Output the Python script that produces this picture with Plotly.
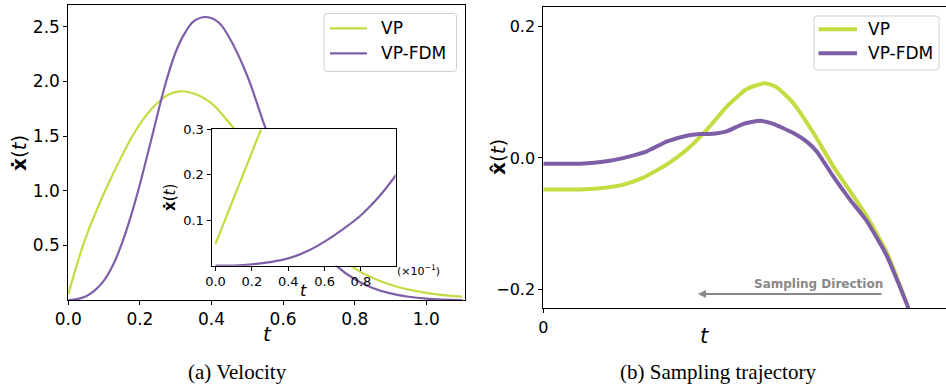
import plotly.graph_objects as go

W, H = 946, 387

# ---------------- data ----------------
vp_t = [0, 0.02, 0.04, 0.06, 0.08, 0.1, 0.12, 0.14, 0.16, 0.18, 0.2, 0.22, 0.24, 0.26,
        0.28, 0.31, 0.35, 0.4, 0.45, 0.5, 0.6, 0.7, 0.8, 0.9, 1.0, 1.1]
vel_vp = [0.049, 0.28, 0.49, 0.67, 0.83, 0.98, 1.12, 1.255, 1.385, 1.505, 1.61, 1.70, 1.775,
          1.835, 1.88, 1.91, 1.89, 1.80, 1.62, 1.42, 0.98, 0.58, 0.29, 0.14, 0.065, 0.03]

fdm_t = [0, 0.025, 0.05, 0.075, 0.1, 0.125, 0.15, 0.175, 0.2, 0.225, 0.25, 0.275, 0.3,
         0.325, 0.35, 0.385, 0.42, 0.45, 0.5, 0.55, 0.6, 0.65, 0.7, 0.75, 0.8, 0.85, 0.9,
         0.95, 1.0, 1.05, 1.1]
vel_fdm = [0, 0.008, 0.035, 0.09, 0.18, 0.32, 0.52, 0.77, 1.06, 1.38, 1.71, 2.02, 2.27,
           2.44, 2.55, 2.59, 2.54, 2.40, 2.05, 1.58, 1.15, 0.78, 0.50, 0.31, 0.19, 0.11,
           0.06, 0.03, 0.012, 0.004, 0.0]

inset_t_vp = [0, 0.1, 0.2, 0.25, 0.3]
inset_vp = [0.048, 0.149, 0.250, 0.300, 0.350]
inset_t_fdm = [0, 0.1, 0.2, 0.3, 0.4, 0.5, 0.6, 0.7, 0.8, 0.9, 1.0]
inset_fdm = [0, 0.0004, 0.003, 0.008, 0.016, 0.031, 0.053, 0.080, 0.111, 0.152, 0.203]

traj_u_vp = [0, 0.091, 0.141, 0.199, 0.248, 0.306, 0.356, 0.406, 0.455, 0.505, 0.550,
             0.579, 0.621, 0.671, 0.720, 0.770, 0.803, 0.853, 0.906, 0.93]
traj_vp = [-0.048, -0.048, -0.046, -0.0405, -0.030, -0.010, 0.0127, 0.043, 0.078, 0.105,
           0.114, 0.108, 0.0835, 0.038, -0.0127, -0.058, -0.0886, -0.144, -0.228, -0.27]
traj_u_fdm = [0, 0.091, 0.157, 0.215, 0.257, 0.306, 0.356, 0.389, 0.422, 0.455, 0.497,
              0.538, 0.571, 0.621, 0.654, 0.679, 0.720, 0.761, 0.803, 0.853, 0.906, 0.93]
traj_fdm = [-0.0086, -0.0086, -0.005, 0.0025, 0.010, 0.025, 0.034, 0.0365, 0.037, 0.0405,
            0.052, 0.0567, 0.052, 0.038, 0.025, 0.010, -0.028, -0.063, -0.096, -0.149,
            -0.228, -0.27]

names = ["VP", "VP-FDM"]
colors = ["#c6da42", "#7f5ea8"]

vel_xticks = [0, 0.2, 0.4, 0.6, 0.8, 1.0]
vel_xlabels = ["0.0", "0.2", "0.4", "0.6", "0.8", "1.0"]
vel_yticks = [0.5, 1.0, 1.5, 2.0, 2.5]
vel_ylabels = ["0.5", "1.0", "1.5", "2.0", "2.5"]
inset_xticks = [0, 0.2, 0.4, 0.6, 0.8]
inset_xlabels = ["0.0", "0.2", "0.4", "0.6", "0.8"]
inset_yticks = [0.1, 0.2, 0.3]
inset_ylabels = ["0.1", "0.2", "0.3"]
traj_yticks = [-0.2, 0.0, 0.2]
traj_ylabels = ["\u22120.2", "0.0", "0.2"]

# ---------------- helpers ----------------
def px(x):
    return x / W

def py(y):
    return 1 - y / H

FONT = "DejaVu Sans"
fig = go.Figure()

# left main
fig.add_trace(go.Scatter(x=vp_t, y=vel_vp, mode="lines", name=names[0],
                         line=dict(color=colors[0], width=2.2, shape="spline", smoothing=1),
                         xaxis="x", yaxis="y", showlegend=False))
fig.add_trace(go.Scatter(x=fdm_t, y=vel_fdm, mode="lines", name=names[1],
                         line=dict(color=colors[1], width=2.2, shape="spline", smoothing=1),
                         xaxis="x", yaxis="y", showlegend=False))
# right
fig.add_trace(go.Scatter(x=traj_u_vp, y=traj_vp, mode="lines", name=names[0],
                         line=dict(color=colors[0], width=4, shape="spline", smoothing=0.5),
                         xaxis="x2", yaxis="y2", showlegend=False))
fig.add_trace(go.Scatter(x=traj_u_fdm, y=traj_fdm, mode="lines", name=names[1],
                         line=dict(color=colors[1], width=4, shape="spline", smoothing=0.5),
                         xaxis="x2", yaxis="y2", showlegend=False))
# inset
fig.add_trace(go.Scatter(x=inset_t_vp, y=inset_vp, mode="lines", showlegend=False,
                         line=dict(color=colors[0], width=2.2),
                         xaxis="x3", yaxis="y3"))
fig.add_trace(go.Scatter(x=inset_t_fdm, y=inset_fdm, mode="lines", showlegend=False,
                         line=dict(color=colors[1], width=2.2, shape="spline", smoothing=1),
                         xaxis="x3", yaxis="y3"))

axis_common = dict(showline=True, linecolor="black", linewidth=1, mirror=True,
                   ticks="outside", ticklen=4, tickcolor="black", showgrid=False,
                   zeroline=False, tickmode="array", automargin=False)

fig.update_layout(
    template="none", showlegend=False,
    width=W, height=H, margin=dict(l=0, r=0, t=0, b=0, pad=0, autoexpand=False),
    paper_bgcolor="white", plot_bgcolor="white",
    font=dict(family=FONT, color="black"),
    xaxis=dict(domain=[px(68.3), px(465)], range=[0, 1.108], tickvals=vel_xticks,
               ticktext=vel_xlabels, tickfont=dict(size=17), anchor="y", **axis_common),
    yaxis=dict(domain=[py(300), py(5)], range=[0, 2.70], tickvals=vel_yticks,
               ticktext=vel_ylabels, tickfont=dict(size=17), anchor="x", **axis_common),
    xaxis2=dict(domain=[px(543.3), 1.0], range=[0, 1.0], tickvals=[0], ticktext=["0"],
                tickfont=dict(size=16), anchor="y2", **axis_common),
    yaxis2=dict(domain=[py(308.3), py(6.7)], range=[-0.229, 0.2305], tickvals=traj_yticks,
                ticktext=traj_ylabels, tickfont=dict(size=16), anchor="x2", **axis_common),
    xaxis3=dict(domain=[px(211.5), px(395.5)], range=[-0.022, 0.99], tickvals=inset_xticks,
                ticktext=inset_xlabels, tickfont=dict(size=13), anchor="y3", **axis_common),
    yaxis3=dict(domain=[py(265.7), py(129.3)], range=[0, 0.3], tickvals=inset_yticks,
                ticktext=inset_ylabels, tickfont=dict(size=13), anchor="x3", **axis_common),
)

ann = []
def text(x, y, s, size, angle=0, family=FONT, color="black", xanchor="center"):
    ann.append(dict(x=px(x), y=py(y), xref="paper", yref="paper", text=s, showarrow=False,
                    textangle=angle, xanchor=xanchor, yanchor="middle",
                    font=dict(size=size, family=family, color=color)))

shapes = []
def rounded_box(x0, y0, x1, y1, r=3):
    path = (f"M {px(x0 + r)},{py(y0)} L {px(x1 - r)},{py(y0)} "
            f"Q {px(x1)},{py(y0)} {px(x1)},{py(y0 + r)} L {px(x1)},{py(y1 - r)} "
            f"Q {px(x1)},{py(y1)} {px(x1 - r)},{py(y1)} L {px(x0 + r)},{py(y1)} "
            f"Q {px(x0)},{py(y1)} {px(x0)},{py(y1 - r)} L {px(x0)},{py(y0 + r)} "
            f"Q {px(x0)},{py(y0)} {px(x0 + r)},{py(y0)} Z")
    shapes.append(dict(type="path", path=path, xref="paper", yref="paper",
                       fillcolor="rgba(255,255,255,0.85)", line=dict(color="#d0d0d0", width=1)))

def legend(x0, y0, x1, y1, rows, lx0, lx1, tx, lw):
    rounded_box(x0, y0, x1, y1)
    for (yy, name, col) in rows:
        shapes.append(dict(type="line", xref="paper", yref="paper", x0=px(lx0), x1=px(lx1),
                           y0=py(yy), y1=py(yy), line=dict(color=col, width=lw)))
        text(tx, yy, name, 17, xanchor="left")

legend(324, 13.5, 456.5, 71.5, [(28.3, names[0], colors[0]), (53.3, names[1], colors[1])],
       330, 367, 379, 2.2)
legend(814, 16, 939, 70, [(29.3, names[0], colors[0]), (53.3, names[1], colors[1])],
       818.5, 857, 866, 4)

text(19, 153, "<b>\u1e8b</b>(<i>t</i>)", 20, angle=-90)
text(498, 157, "<b>x\u0302</b>(<i>t</i>)", 20, angle=-90)
text(170, 198, "<b>\u1e8b</b>(<i>t</i>)", 15, angle=-90)
text(267, 334, "<i>t</i>", 20)
text(704, 336, "<i>t</i>", 21)
text(303, 290, "<i>t</i>", 16)
text(395, 270, "(\u00d710<sup>\u22121</sup>)", 11, xanchor="left")
text(237, 372, "(a) Velocity", 21, family="Liberation Serif")
text(718, 372, "(b) Sampling trajectory", 21, family="Liberation Serif")
text(818, 284, "<b>Sampling Direction</b>", 12, color="#888888")
ann.append(dict(x=px(698), y=py(294), xref="paper", yref="paper", ax=185, ay=0,
                axref="pixel", ayref="pixel", text="", showarrow=True, arrowhead=2,
                arrowsize=0.8, arrowwidth=2, arrowcolor="#888888"))
fig.update_layout(annotations=ann, shapes=shapes)

fig.write_html("out.html", config={"displayModeBar": False},
               post_script="document.body.style.margin='0';document.body.style.padding='0';")
